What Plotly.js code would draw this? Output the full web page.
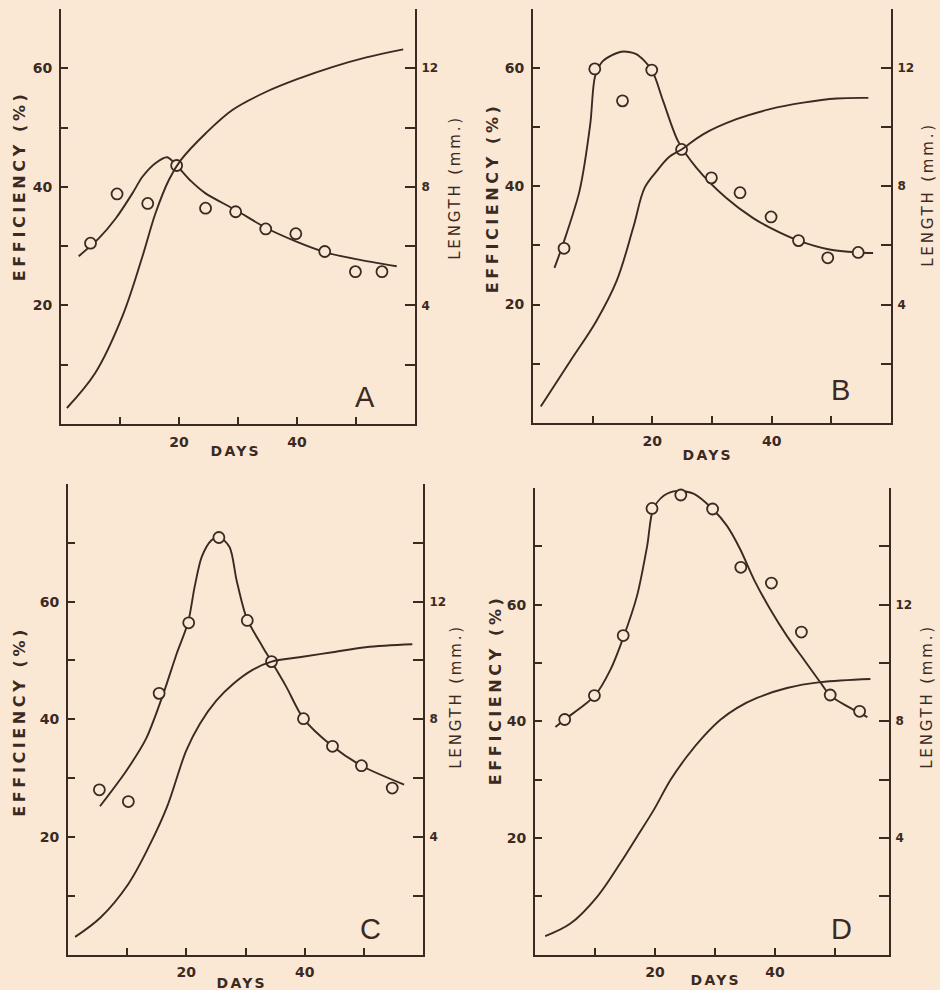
<!DOCTYPE html>
<html>
<head>
<meta charset="utf-8">
<script src="https://cdn.plot.ly/plotly-3.0.1.min.js"></script>
<style>
  html, body { margin: 0; padding: 0; background: #fae8d5; }
  #chart { width: 940px; height: 990px; }
</style>
</head>
<body>
<div id="chart"></div>
<script>
// ---------- DATA ----------
// Panel A
const aPointDays = [5, 9.5, 14.7, 19.6, 24.5, 29.6, 34.7, 39.8, 44.7, 49.9, 54.4];
const aPointEff  = [30.5, 38.8, 37.2, 43.6, 36.4, 35.8, 32.9, 32.1, 29.1, 25.7, 25.7];
const aEffDays   = [3.0, 6.4, 9.3, 12.1, 13.8, 16.0, 18.0, 19.6, 22, 24.5, 29.6, 34.7, 39.8, 44.7, 50, 56.9];
const aEffCurve  = [28.3, 31.3, 34.7, 38.9, 41.7, 44.0, 45.0, 43.6, 41.0, 38.9, 36.1, 33.1, 30.8, 29.0, 27.8, 26.6];
const aLenDays   = [1.0, 5.8, 10.4, 13.8, 16.0, 18.3, 20.3, 24.5, 29.1, 34.7, 40.4, 46.1, 51.75, 58];
const aLenCurve  = [0.54, 1.72, 3.63, 5.65, 7.1, 8.24, 8.9, 9.8, 10.6, 11.2, 11.66, 12.05, 12.37, 12.64];

// Panel B
const bPointDays = [5.2, 10.35, 15, 19.9, 24.9, 29.9, 34.7, 39.9, 44.5, 49.4, 54.5];
const bPointEff  = [29.5, 59.8, 54.4, 59.6, 46.2, 41.4, 38.9, 34.8, 30.8, 27.9, 28.8];
const bEffDays   = [3.6, 5.2, 7.8, 9.6, 10.4, 11.7, 14.8, 17.3, 19.9, 21.8, 24.3, 27.4, 32.4, 36.9, 39.7, 44.5, 49.7, 54.5, 57];
const bEffCurve  = [26.2, 30.7, 39.2, 50.5, 58.5, 61.1, 62.7, 62.3, 59.6, 54.4, 47.6, 43.1, 38.0, 34.6, 33.0, 30.8, 29.3, 28.8, 28.7];
const bLenDays   = [1.3, 6.2, 10.6, 14, 16.8, 18.7, 20.7, 22.9, 24.9, 28.5, 34.1, 39.7, 45.3, 50.9, 56.2];
const bLenCurve  = [0.56, 2.08, 3.44, 4.79, 6.6, 7.94, 8.5, 9.0, 9.24, 9.75, 10.26, 10.6, 10.82, 10.96, 10.98];

// Panel C
const cPointDays = [5.3, 10.2, 15.4, 20.4, 25.5, 30.3, 34.4, 39.8, 44.7, 49.6, 54.8];
const cPointEff  = [28.0, 26.0, 44.4, 56.4, 70.9, 56.8, 49.8, 40.1, 35.4, 32.1, 28.3];
const cEffDays   = [5.4, 9.9, 13.2, 16.1, 18.35, 20.3, 21.4, 22.6, 24.2, 25.5, 27.3, 28.5, 30.2, 32.9, 34.4, 36.9, 39.8, 44.7, 49.6, 56.8];
const cEffCurve  = [25.2, 31.3, 36.7, 44.3, 51.1, 56.5, 62.5, 67.6, 70.4, 71.0, 69.3, 63.6, 57.2, 52.3, 49.8, 45.5, 40.1, 35.4, 32.1, 28.9];
const cLenDays   = [1.2, 5.5, 10.2, 13.9, 16.7, 20, 22.3, 25.1, 27.9, 31.2, 34.4, 39.1, 44.7, 50.3, 58.2];
const cLenCurve  = [0.6, 1.26, 2.4, 3.76, 5.0, 6.94, 7.85, 8.64, 9.2, 9.68, 9.96, 10.11, 10.28, 10.45, 10.55];

// Panel D
const dPointDays = [4.95, 9.9, 14.7, 19.5, 24.3, 29.6, 34.3, 39.4, 44.4, 49.2, 54.1];
const dPointEff  = [40.3, 44.4, 54.7, 76.5, 78.8, 76.4, 66.4, 63.7, 55.3, 44.5, 41.7];
const dEffDays   = [3.4, 4.95, 9.9, 12.6, 14.7, 17, 18.7, 19.7, 21.5, 23.7, 26.5, 29.6, 32, 34.2, 36.5, 39.2, 42, 44.8, 47.6, 49.2, 52, 55.4];
const dEffCurve  = [39, 40.3, 44.3, 48.9, 54.3, 61.5, 70.1, 76.4, 78.7, 79.5, 79, 76.4, 73.5, 69.5, 64.3, 59.2, 54.6, 50.6, 46.6, 44.4, 42.6, 40.7];
const dLenDays   = [1.7, 5.9, 10.35, 14.2, 17, 19.8, 22.6, 25.35, 28.1, 30.9, 33.7, 37, 42, 47.6, 55.9];
const dLenCurve  = [0.63, 1.06, 1.98, 3.13, 4.04, 4.96, 5.99, 6.8, 7.48, 8.05, 8.46, 8.8, 9.14, 9.34, 9.45];

// Tick labels
const dayTicks = [10, 20, 30, 40, 50];
const dayTickText = ['', '20', '', '40', ''];
const effTicks70 = [10, 20, 30, 40, 50, 60, 70];
const effText70  = ['', '20', '', '40', '', '60', ''];
const effTicks80 = [10, 20, 30, 40, 50, 60, 70, 80];
const effText80  = ['', '20', '', '40', '', '60', '', ''];
const lenTicks14 = [2, 4, 6, 8, 10, 12, 14];
const lenText14  = ['', '4', '', '8', '', '12', ''];
const lenTicks16 = [2, 4, 6, 8, 10, 12, 14, 16];
const lenText16  = ['', '4', '', '8', '', '12', '', ''];
const panelLetters = ['A', 'B', 'C', 'D'];
const effTitles = ['EFFICIENCY (%)', 'EFFICIENCY (%)', 'EFFICIENCY (%)', 'EFFICIENCY (%)'];
const lenTitle = 'LENGTH (mm.)';
const dayTitle = 'DAYS';

// ---------- STYLE ----------
const INK = '#3a2a22';
const BG = '#fae8d5';
const W = 940, H = 990;
const FAM = 'DejaVu Sans, Arial, sans-serif';
const px = x => x / W;
const py = y => 1 - y / H;

const panels = [
  { pd: aPointDays, pe: aPointEff, ed: aEffDays, ec: aEffCurve, ld: aLenDays, lc: aLenCurve,
    xdom: [61, 415], ydom: [9, 424], xr: [0, 60], er: [0, 70], lr: [0, 14],
    et: effTicks70, etx: effText70, lt: lenTicks14, ltx: lenText14,
    effT: [19, 186], lenT: [455, 188], dayT: [235, 451], let: [365, 397] },
  { pd: bPointDays, pe: bPointEff, ed: bEffDays, ec: bEffCurve, ld: bLenDays, lc: bLenCurve,
    xdom: [533, 891], ydom: [8.5, 423], xr: [0, 60], er: [0, 70], lr: [0, 14],
    et: effTicks70, etx: effText70, lt: lenTicks14, ltx: lenText14,
    effT: [493, 198], lenT: [928, 195], dayT: [707, 455], let: [840, 390] },
  { pd: cPointDays, pe: cPointEff, ed: cEffDays, ec: cEffCurve, ld: cLenDays, lc: cLenCurve,
    xdom: [68, 423], ydom: [484, 954.5], xr: [0, 60], er: [0, 80], lr: [0, 16],
    et: effTicks80, etx: effText80, lt: lenTicks16, ltx: lenText16,
    effT: [18.5, 722], lenT: [456, 697], dayT: [242, 983], let: [370, 929] },
  { pd: dPointDays, pe: dPointEff, ed: dEffDays, ec: dEffCurve, ld: dLenDays, lc: dLenCurve,
    xdom: [535, 889], ydom: [488, 954.5], xr: [0, 59], er: [0, 80], lr: [0, 16],
    et: effTicks80, etx: effText80, lt: lenTicks16, ltx: lenText16,
    effT: [495, 690], lenT: [927, 697], dayT: [715, 980], let: [841, 929] }
];

const data = [];
const layout = {
  width: W, height: H,
  margin: { l: 0, r: 0, t: 0, b: 0, pad: 0 },
  paper_bgcolor: BG, plot_bgcolor: 'rgba(0,0,0,0)',
  showlegend: false,
  annotations: []
};

const spacing = {};

panels.forEach((p, i) => {
  const xn = i + 1;
  const yl = 2 * i + 1, yr = 2 * i + 2;
  const xs = xn === 1 ? 'x' : 'x' + xn;
  const yls = yl === 1 ? 'y' : 'y' + yl;
  const yrs = 'y' + yr;

  data.push({ x: p.ld, y: p.lc, xaxis: xs, yaxis: yrs, type: 'scatter', mode: 'lines',
    line: { color: INK, width: 1.9, shape: 'spline', smoothing: 1.0 }, hoverinfo: 'skip' });
  data.push({ x: p.ed, y: p.ec, xaxis: xs, yaxis: yls, type: 'scatter', mode: 'lines',
    line: { color: INK, width: 1.9, shape: 'spline', smoothing: 0.8 }, hoverinfo: 'skip' });
  data.push({ x: p.pd, y: p.pe, xaxis: xs, yaxis: yls, type: 'scatter', mode: 'markers',
    marker: { symbol: 'circle', size: 11, color: BG, line: { color: INK, width: 1.8 } } });

  const xd = [px(p.xdom[0]), px(p.xdom[1])];
  const yd = [py(p.ydom[1]), py(p.ydom[0])];

  layout['xaxis' + (xn === 1 ? '' : xn)] = {
    domain: xd, range: p.xr, anchor: yls,
    showline: true, linecolor: INK, linewidth: 2,
    ticks: 'inside', ticklen: 7, tickwidth: 2, tickcolor: INK,
    tickmode: 'array', tickvals: dayTicks, ticktext: dayTickText,
    tickfont: { family: FAM, size: 14, color: INK, weight: 'bold' },
    ticklabelstandoff: 4,
    showgrid: false, zeroline: false, fixedrange: true
  };
  layout['yaxis' + (yl === 1 ? '' : yl)] = {
    domain: yd, range: p.er, anchor: xs, side: 'left',
    showline: true, linecolor: INK, linewidth: 2,
    ticks: 'inside', ticklen: 7, tickwidth: 2, tickcolor: INK,
    tickmode: 'array', tickvals: p.et, ticktext: p.etx,
    tickfont: { family: FAM, size: 14, color: INK, weight: 'bold' },
    ticklabelstandoff: 4,
    showgrid: false, zeroline: false, fixedrange: true
  };
  layout['yaxis' + yr] = {
    domain: yd, range: p.lr, anchor: xs, overlaying: yls, side: 'right',
    showline: true, linecolor: INK, linewidth: 2,
    ticks: 'inside', ticklen: 10, tickwidth: 2, tickcolor: INK,
    tickmode: 'array', tickvals: p.lt, ticktext: p.ltx,
    tickfont: { family: FAM, size: 12, color: INK, weight: 'bold' },
    ticklabelstandoff: 2,
    showgrid: false, zeroline: false, fixedrange: true
  };

  const ann = layout.annotations;
  spacing[ann.length] = '3.6px';
  ann.push({ text: effTitles[i], xref: 'paper', yref: 'paper', x: px(p.effT[0]), y: py(p.effT[1]),
    xanchor: 'center', yanchor: 'middle', textangle: -90, showarrow: false,
    font: { family: FAM, size: 16, color: INK, weight: 'bold' } });
  spacing[ann.length] = '2.8px';
  ann.push({ text: lenTitle, xref: 'paper', yref: 'paper', x: px(p.lenT[0]), y: py(p.lenT[1]),
    xanchor: 'center', yanchor: 'middle', textangle: -90, showarrow: false,
    font: { family: FAM, size: 15, color: INK } });
  spacing[ann.length] = '2.2px';
  ann.push({ text: dayTitle, xref: 'paper', yref: 'paper', x: px(p.dayT[0]), y: py(p.dayT[1]),
    xanchor: 'center', yanchor: 'middle', showarrow: false,
    font: { family: FAM, size: 14, color: INK, weight: 'bold' } });
  ann.push({ text: panelLetters[i], xref: 'paper', yref: 'paper', x: px(p.let[0]), y: py(p.let[1]),
    xanchor: 'center', yanchor: 'middle', showarrow: false,
    font: { family: 'Liberation Sans, Arial, sans-serif', size: 29, color: INK } });
});

Plotly.newPlot('chart', data, layout, { staticPlot: true, displayModeBar: false }).then(() => {
  const groups = document.querySelectorAll('#chart g.annotation');
  groups.forEach(g => {
    const idx = g.getAttribute('data-index');
    if (spacing[idx]) {
      const t = g.querySelector('text.annotation-text');
      if (t) t.style.letterSpacing = spacing[idx];
    }
  });
});
</script>
</body>
</html>
